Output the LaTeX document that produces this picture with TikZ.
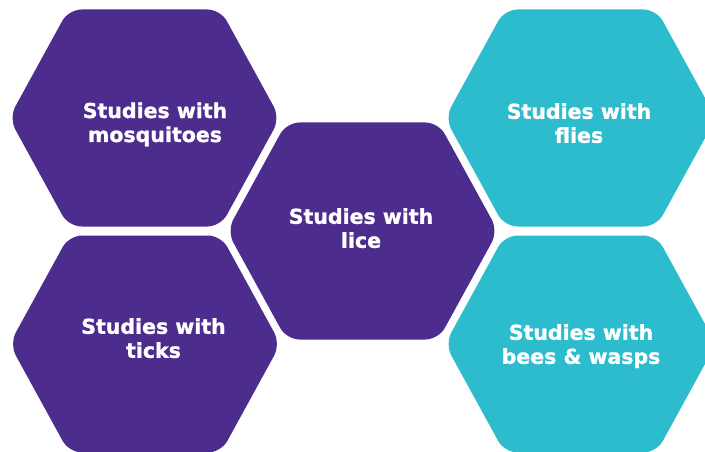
\documentclass[tikz,border=0pt]{standalone}
\usepackage{fontspec}
\setmainfont{DejaVu Sans}[BoldFeatures={FakeBold=1.2}]
\definecolor{hexpurple}{RGB}{76,45,142}
\definecolor{hexteal}{RGB}{44,188,205}
\tikzset{
  hexcell/.style={rounded corners=13pt},
  purplecell/.style={hexcell, fill=hexpurple},
  tealcell/.style={hexcell, fill=hexteal},
  celltext/.style={text=white, font=\bfseries\fontsize{20.5}{24}\selectfont, align=center, inner sep=0pt},
}
\newcommand\hexshape{(0,-108.5) -- (76,-108.5) -- (135.5,0) -- (76,108.5) -- (-76,108.5) -- (-135.5,0) -- (-76,-108.5) -- cycle}
\begin{document}
\begin{tikzpicture}[x=1pt,y=-1pt]
\useasboundingbox (0,0) rectangle (705,452);
\fill[white] (0,0) rectangle (705,452);
\clip (0,0) rectangle (705,452);
% hexagon centres
\coordinate (cMosq) at (144.5,118);
\coordinate (cTicks) at (145,344);
\coordinate (cLice) at (362.5,231);
\coordinate (cFlies) at (580.5,118);
\coordinate (cBees) at (580.5,344);
% hexagons
\fill[purplecell, shift={(cMosq)}] \hexshape;
\fill[purplecell, shift={(cTicks)}] \hexshape;
\fill[purplecell, shift={(cLice)}] \hexshape;
\fill[tealcell, shift={(cFlies)}] \hexshape;
\fill[tealcell, shift={(cBees)}] \hexshape;
% labels
\node[celltext] (tMosq) at (155,125.2) {\strut Studies with\\\strut mosquitoes};
\node[celltext] (tTicks) at (153.5,341) {\strut Studies with\\\strut ticks};
\node[celltext] (tLice) at (361,231) {\strut Studies with\\\strut lice};
\node[celltext] (tFlies) at (579,126) {\strut Studies with\\\strut flies};
\node[celltext] (tBees) at (581,347) {\strut Studies with\\\strut bees \& wasps};
\end{tikzpicture}
\end{document}
